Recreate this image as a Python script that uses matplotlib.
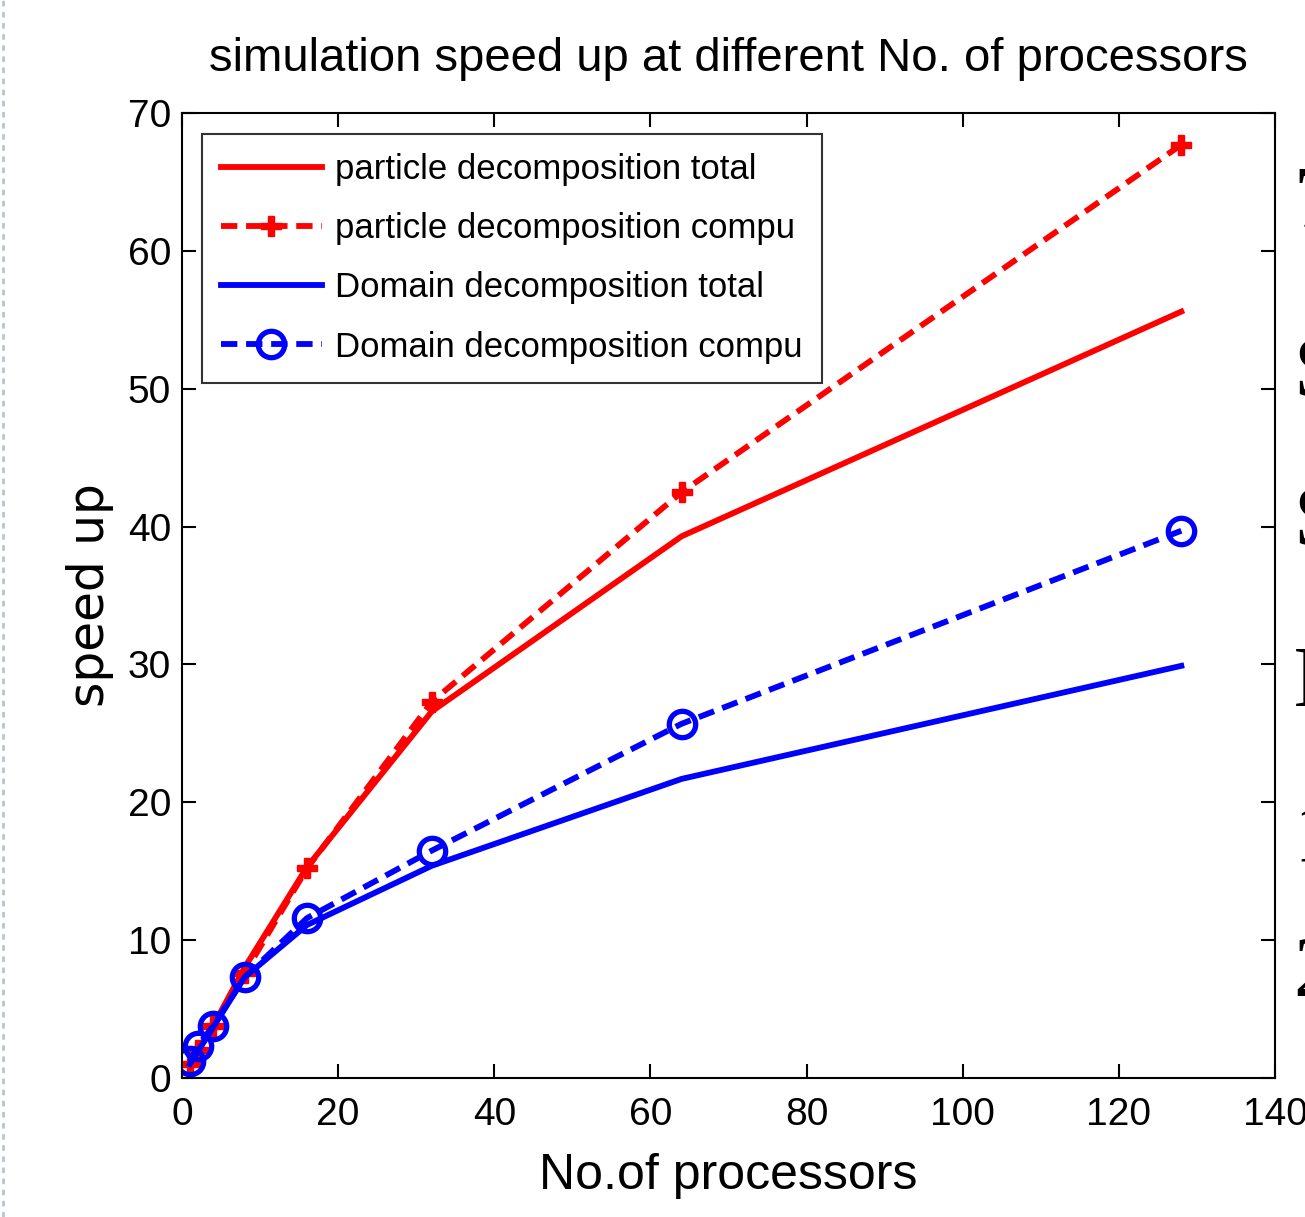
import matplotlib
matplotlib.use('Agg')
import matplotlib.pyplot as plt
from matplotlib.lines import Line2D

procs = [1, 2, 4, 8, 16, 32, 64, 128]
particle_total = [1.0, 2.0, 3.8, 8.0, 15.3, 26.6, 39.3, 55.6]
particle_compu = [1.0, 2.0, 3.8, 7.6, 15.2, 27.3, 42.5, 67.7]
domain_total = [1.0, 1.9, 3.7, 7.3, 11.1, 15.4, 21.7, 29.9]
domain_compu = [1.2, 2.3, 3.8, 7.3, 11.6, 16.5, 25.7, 39.7]

xticks = [0, 20, 40, 60, 80, 100, 120, 140]
yticks = [0, 10, 20, 30, 40, 50, 60, 70]

plt.rcParams['font.family'] = ['Liberation Sans', 'DejaVu Sans']

fig = plt.figure(figsize=(13.05, 12.17), dpi=100)
ax = fig.add_axes([0.1395, 0.1142, 0.8375, 0.7929])

lw = 4.2
ax.plot(procs, particle_total, color='red', lw=lw, label='particle decomposition total')
ax.plot(procs, particle_compu, color='red', lw=lw, dashes=(2.8, 1.5), marker='P',
        markersize=14, label='particle decomposition compu')
ax.plot(procs, domain_total, color='blue', lw=lw, label='Domain decomposition total')
ax.plot(procs, domain_compu, color='blue', lw=lw, dashes=(2.8, 1.5), marker='o',
        markersize=19, markerfacecolor='none', markeredgewidth=3.8,
        label='Domain decomposition compu')

ax.set_xlim(0, 140)
ax.set_ylim(0, 70)
ax.set_xticks(xticks)
ax.set_yticks(yticks)
ax.tick_params(direction='in', length=10, width=1.5, top=True, right=True,
               labelsize=28, pad=8)
ax.tick_params(axis='x', pad=14)
for s in ax.spines.values():
    s.set_linewidth(1.5)

ax.set_title('simulation speed up at different No. of processors', fontsize=34, pad=30)
ax.set_xlabel('No.of processors', fontsize=36, labelpad=14)
ax.set_ylabel('speed up', fontsize=35, family='DejaVu Sans', labelpad=10)

leg = ax.legend(loc='upper left', bbox_to_anchor=(0.018, 0.978), fontsize=25,
                frameon=True, fancybox=False, handlelength=2.9, borderpad=0.55,
                labelspacing=0.75, handletextpad=0.4, borderaxespad=0)
leg.get_frame().set_edgecolor('black')
leg.get_frame().set_linewidth(1.5)

# clipped serif text from the neighbouring page on the right edge
for ch, yy in [('7', 0.832), ('S', 0.692), ('S', 0.569), ('I', 0.437), ('1', 0.31), ('2', 0.199)]:
    fig.text(0.991, yy, ch, fontsize=62, family='Liberation Serif', ha='left', va='center')

fig.add_artist(Line2D([0.002, 0.002], [0, 1], color='#b8c4d0', lw=2, ls=(0, (2, 2))))

fig.savefig('out.png', dpi=100)
